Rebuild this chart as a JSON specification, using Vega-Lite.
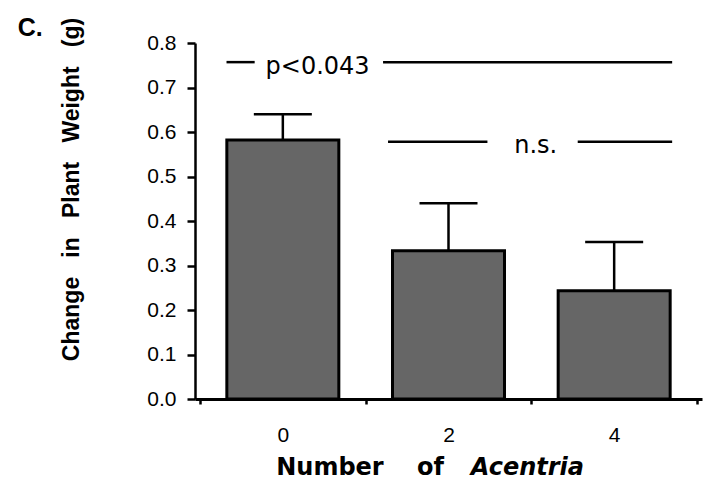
{
  "$schema": "https://vega.github.io/schema/vega-lite/v6.json",
  "width": 507,
  "height": 356,
  "autosize": "none",
  "padding": {"left": 195, "top": 43, "right": 5, "bottom": 82},
  "background": "white",
  "config": {"view": {"stroke": null}, "font": "Liberation Sans"},
  "layer": [
    {
      "data": {"values": [
        {"n": 0, "mean": 0.582, "upper": 0.640},
        {"n": 2, "mean": 0.333, "upper": 0.440},
        {"n": 4, "mean": 0.243, "upper": 0.353}
      ]},
      "mark": {"type": "bar", "width": 112, "fill": "#666666", "stroke": "black", "strokeWidth": 3},
      "encoding": {
        "x": {"field": "n", "type": "quantitative",
          "scale": {"domain": [-1, 5], "nice": false, "zero": false},
          "axis": {"title": null, "values": [-1, 0, 1, 2, 3, 4, 5], "grid": false,
            "domainColor": "black", "domainWidth": 3,
            "tickColor": "black", "tickWidth": 2.5, "tickSize": 5,
            "tickOpacity": {"condition": {"test": "datum.value % 2 == 0", "value": 0}, "value": 1},
            "labelExpr": "datum.value % 2 == 0 ? format(datum.value, 'd') : ''",
            "labelFont": "Liberation Sans", "labelFontSize": 21, "labelColor": "black", "labelPadding": 20, "labelFlush": false, "labelOverlap": false}},
        "y": {"field": "mean", "type": "quantitative",
          "scale": {"domain": [0, 0.8], "nice": false},
          "axis": {"title": "Change\u00a0\u00a0\u00a0in\u00a0\u00a0\u00a0Plant\u00a0\u00a0\u00a0Weight\u00a0\u00a0\u00a0(g)",
            "values": [0, 0.05, 0.1, 0.15, 0.2, 0.25, 0.3, 0.35, 0.4, 0.45, 0.5, 0.55, 0.6, 0.65, 0.7, 0.75, 0.8],
            "grid": false, "domainColor": "black", "domainWidth": 2.5,
            "tickColor": "black", "tickWidth": 2.5,
            "tickSize": {"condition": {"test": "abs(datum.value*10 - round(datum.value*10)) < 0.001", "value": 8}, "value": 4},
            "labelExpr": "abs(datum.value*10 - round(datum.value*10)) < 0.001 ? format(datum.value, '.1f') : ''",
            "labelFont": "Liberation Sans", "labelFontSize": 21, "labelColor": "black", "labelPadding": 11, "labelFlush": false, "labelOverlap": false,
            "titleFont": "Liberation Sans", "titleFontSize": 23, "titleFontWeight": "bold", "titleColor": "black",
            "titleX": -112, "titleY": 146, "titleBaseline": "bottom", "titleAngle": -90}}
      }
    },
    {
      "data": {"values": [
        {"n": 0, "mean": 0.582, "upper": 0.640},
        {"n": 2, "mean": 0.333, "upper": 0.440},
        {"n": 4, "mean": 0.243, "upper": 0.353}
      ]},
      "mark": {"type": "rule", "stroke": "black", "strokeWidth": 2.5},
      "encoding": {
        "x": {"field": "n", "type": "quantitative"},
        "y": {"field": "mean", "type": "quantitative"},
        "y2": {"field": "upper"}
      }
    },
    {
      "data": {"values": [
        {"n": 0, "upper": 0.640},
        {"n": 2, "upper": 0.440},
        {"n": 4, "upper": 0.353}
      ]},
      "mark": {"type": "tick", "orient": "horizontal", "size": 58, "thickness": 2.5, "color": "black", "opacity": 1},
      "encoding": {
        "x": {"field": "n", "type": "quantitative"},
        "y": {"field": "upper", "type": "quantitative"}
      }
    },
    {
      "data": {"values": [
        {"x1": -0.68, "x2": -0.34, "y": 0.757},
        {"x1": 1.21, "x2": 4.70, "y": 0.757},
        {"x1": 1.27, "x2": 2.47, "y": 0.578},
        {"x1": 3.56, "x2": 4.70, "y": 0.578}
      ]},
      "mark": {"type": "rule", "stroke": "black", "strokeWidth": 2.5},
      "encoding": {
        "x": {"field": "x1", "type": "quantitative"},
        "x2": {"field": "x2"},
        "y": {"field": "y", "type": "quantitative"}
      }
    },
    {
      "data": {"values": [
        {"x": 0.42, "y": 0.730, "label": "p<0.043"},
        {"x": 3.053, "y": 0.553, "label": "n.s."}
      ]},
      "mark": {"type": "text", "font": "DejaVu Sans", "fontSize": 24, "align": "center", "baseline": "alphabetic", "color": "black"},
      "encoding": {
        "x": {"field": "x", "type": "quantitative"},
        "y": {"field": "y", "type": "quantitative"},
        "text": {"field": "label"}
      }
    },
    {
      "data": {"values": [
        {"x": -0.08, "y": -0.171, "label": "Number\u00a0\u00a0\u00a0\u00a0of"}
      ]},
      "mark": {"type": "text", "font": "DejaVu Sans", "fontSize": 24, "fontWeight": "bold", "align": "left", "baseline": "alphabetic", "color": "black"},
      "encoding": {
        "x": {"field": "x", "type": "quantitative"},
        "y": {"field": "y", "type": "quantitative"},
        "text": {"field": "label"}
      }
    },
    {
      "data": {"values": [
        {"x": 2.27, "y": -0.171, "label": "Acentria"}
      ]},
      "mark": {"type": "text", "font": "DejaVu Sans", "fontSize": 24, "fontWeight": "bold", "fontStyle": "italic", "align": "left", "baseline": "alphabetic", "color": "black"},
      "encoding": {
        "x": {"field": "x", "type": "quantitative"},
        "y": {"field": "y", "type": "quantitative"},
        "text": {"field": "label"}
      }
    },
    {
      "data": {"values": [
        {"x": -3.2, "y": 0.815, "label": "C."}
      ]},
      "mark": {"type": "text", "font": "Liberation Sans", "fontSize": 25, "fontWeight": "bold", "align": "left", "baseline": "alphabetic", "color": "black"},
      "encoding": {
        "x": {"field": "x", "type": "quantitative"},
        "y": {"field": "y", "type": "quantitative"},
        "text": {"field": "label"}
      }
    }
  ]
}
